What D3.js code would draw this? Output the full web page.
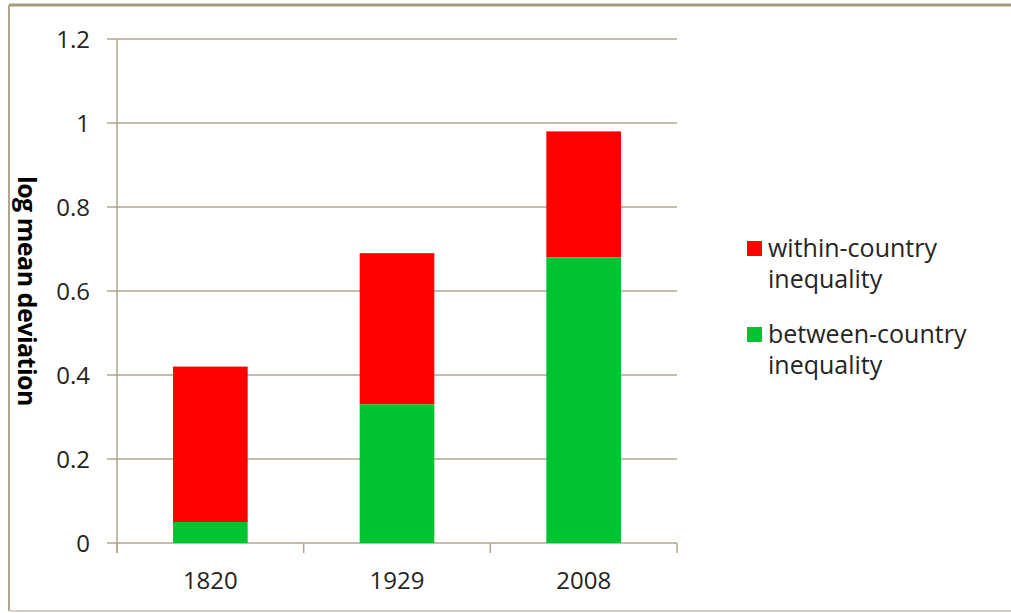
<!DOCTYPE html>
<html>
<head>
<meta charset="utf-8">
<script src="https://cdn.jsdelivr.net/npm/d3@7"></script>
<style>
  body { margin: 0; background: #fff; }
  text { font-family: "Open Sans", "Liberation Sans", sans-serif; fill: #262420; }
</style>
</head>
<body>
<div id="chart"></div>
<script>
var years = ["1820", "1929", "2008"];
var between = [0.05, 0.33, 0.68];
var within = [0.37, 0.36, 0.30];
var yTicks = [0, 0.2, 0.4, 0.6, 0.8, 1, 1.2];
var seriesNames = ["within-country inequality", "between-country inequality"];
var seriesColors = ["#ff0000", "#00c332"];

var width = 1011, height = 613;
var margin = {top: 39, left: 117, right: 335, bottom: 70};

var svg = d3.select("#chart").append("svg")
    .attr("width", width)
    .attr("height", height);

// frame
svg.append("line").attr("x1", 9).attr("x2", width).attr("y1", 5).attr("y2", 5)
    .attr("stroke", "#a89c80").attr("stroke-width", 3);
svg.append("line").attr("x1", 9).attr("x2", 9).attr("y1", 5).attr("y2", 611)
    .attr("stroke", "#b0a58c").attr("stroke-width", 2);
svg.append("line").attr("x1", 9).attr("x2", width).attr("y1", 611).attr("y2", 611)
    .attr("stroke", "#d8d2c4").attr("stroke-width", 2);

var x = d3.scaleBand()
    .domain(years)
    .range([margin.left, width - margin.right + 1])
    .paddingInner(0.6)
    .paddingOuter(0.3);

var y = d3.scaleLinear()
    .domain([0, 1.2])
    .range([543, 39]);

var axisColor = "#b0a58c";
var x0 = margin.left, x1 = width - margin.right + 1;

// gridlines + y ticks
svg.append("g").selectAll("line")
    .data(yTicks)
    .enter().append("line")
    .attr("x1", x0 - 10).attr("x2", x1)
    .attr("y1", function (d) { return y(d); })
    .attr("y2", function (d) { return y(d); })
    .attr("stroke", axisColor).attr("stroke-width", 1.5);

svg.append("g").selectAll("text")
    .data(yTicks)
    .enter().append("text")
    .attr("x", 90)
    .attr("y", function (d) { return y(d); })
    .attr("dy", "0.36em")
    .attr("text-anchor", "end")
    .style("font-size", "24px")
    .text(function (d) { return d; });

// y axis line
svg.append("line").attr("x1", x0).attr("x2", x0).attr("y1", y(1.2)).attr("y2", y(0) + 10)
    .attr("stroke", axisColor).attr("stroke-width", 1.5);

// x ticks at slot boundaries
var step = x.step();
var bounds = [0, 1, 2, 3].map(function (i) { return x0 + i * step; });
svg.append("g").selectAll("line")
    .data(bounds)
    .enter().append("line")
    .attr("x1", function (d) { return d; }).attr("x2", function (d) { return d; })
    .attr("y1", y(0)).attr("y2", y(0) + 10)
    .attr("stroke", axisColor).attr("stroke-width", 1.5);

// stacked bars
var rows = years.map(function (yr, i) {
    return {year: yr, between: between[i], within: within[i]};
});
var stack = d3.stack().keys(["within", "between"]).order(d3.stackOrderReverse);
var layers = stack(rows);

svg.append("g").selectAll("g")
    .data(layers)
    .enter().append("g")
    .attr("fill", function (d, i) { return seriesColors[i]; })
    .selectAll("rect")
    .data(function (d) { return d; })
    .enter().append("rect")
    .attr("x", function (d) { return x(d.data.year); })
    .attr("y", function (d) { return y(d[1]); })
    .attr("width", x.bandwidth())
    .attr("height", function (d) { return y(d[0]) - y(d[1]); });

// x labels
svg.append("g").selectAll("text")
    .data(years)
    .enter().append("text")
    .attr("x", function (d) { return x(d) + x.bandwidth() / 2; })
    .attr("y", 589)
    .attr("text-anchor", "middle")
    .style("font-size", "24px")
    .text(function (d) { return d; });

// y label
svg.append("text")
    .attr("transform", "translate(18,291) rotate(90)")
    .attr("text-anchor", "middle")
    .style("font-size", "25px")
    .style("font-weight", "bold")
    .style("letter-spacing", "-0.5px")
    .style("fill", "#000")
    .text("log mean deviation");

// legend
var legend = svg.append("g");
var legY = [248, 334];
seriesNames.forEach(function (name, i) {
    legend.append("rect")
        .attr("x", 747).attr("y", legY[i] - 7)
        .attr("width", 15).attr("height", 15)
        .attr("fill", seriesColors[i]);
    var parts = name.split(" ");
    legend.append("text")
        .attr("x", 768).attr("y", legY[i] + 9)
        .style("font-size", "25px")
        .text(parts[0]);
    legend.append("text")
        .attr("x", 768).attr("y", legY[i] + 40)
        .style("font-size", "25px")
        .text(parts[1]);
});
</script>
</body>
</html>
